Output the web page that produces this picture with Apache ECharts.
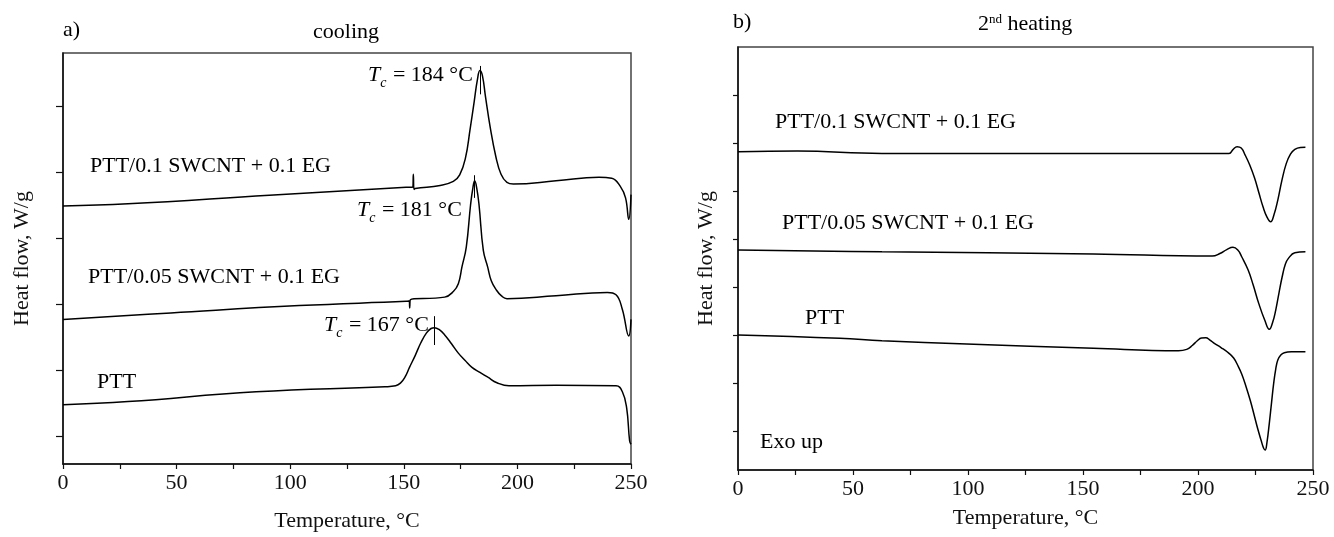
<!DOCTYPE html>
<html><head><meta charset="utf-8">
<script src="https://cdn.jsdelivr.net/npm/echarts@6/dist/echarts.min.js"></script>
<style>html,body{margin:0;padding:0;background:#fff}#c{width:1334px;height:537px}</style>
</head><body><div id="c"></div>
<script>
// ---- cooling (panel a) ----
const coolT_SW01 = [0, 28.6, 90.8, 151, 153.9, 154.2, 154.5, 155, 166, 171.8, 174.6, 177.1, 179.2, 181, 182.4, 183.5, 184.6, 186, 188, 190.5, 192.8, 195.4, 198.2, 217, 235.9, 241.5, 245.3, 247.6, 249, 250];
const coolHF_SW01 = [3.488, 3.522, 3.652, 3.772, 3.776, 3.970, 3.739, 3.754, 3.801, 3.861, 3.960, 4.209, 4.657, 5.075, 5.403, 5.542, 5.463, 5.134, 4.687, 4.239, 3.970, 3.846, 3.821, 3.870, 3.925, 3.910, 3.787, 3.612, 3.288, 3.661];
const coolT_SW005 = [0, 47.5, 104, 151, 152.4, 152.6, 152.9, 168, 171.8, 174, 175.6, 177.5, 179.4, 180.4, 181.2, 182.1, 183.1, 185, 186.9, 188.5, 190.7, 193, 195.4, 217, 239.6, 243.4, 246.2, 249, 250];
const coolHF_SW005 = [1.772, 1.870, 1.981, 2.045, 2.052, 1.945, 2.070, 2.109, 2.194, 2.313, 2.567, 2.866, 3.512, 3.761, 3.870, 3.761, 3.512, 2.816, 2.567, 2.358, 2.219, 2.127, 2.085, 2.130, 2.179, 2.145, 1.921, 1.522, 1.772];
const coolT_PTT = [0, 28.6, 85, 141.7, 146.4, 148.5, 150.5, 152.5, 155, 157.5, 160, 162, 163.5, 165.5, 168, 171, 174, 177, 180, 183.5, 187, 191, 196.3, 217, 243.4, 246.2, 248.1, 249.4, 250];
const coolHF_PTT = [0.478, 0.527, 0.676, 0.751, 0.766, 0.806, 0.896, 1.045, 1.224, 1.418, 1.567, 1.634, 1.646, 1.619, 1.537, 1.403, 1.261, 1.149, 1.045, 0.970, 0.896, 0.813, 0.766, 0.776, 0.766, 0.676, 0.428, -0.070, -0.119];
// Tc marker lines (temperature, upper value, lower value)
const tcMarkT = [183.6, 181.2, 163.5];
const tcMarkTop = [5.61, 3.955, 1.821];
const tcMarkBottom = [5.18, 3.612, 1.384];
const tcValues = [184, 181, 167];

// ---- 2nd heating (panel b) ----
const heatT_SW01 = [0, 25.8, 62.6, 154.6, 213.5, 215.2, 217, 218.8, 220.5, 222.5, 224.6, 226.5, 228.3, 230, 231.6, 233, 234.7, 236.5, 238.4, 240.2, 242.1, 244.5, 246.7];
const heatHF_SW01 = [5.821, 5.836, 5.788, 5.788, 5.788, 5.867, 5.925, 5.898, 5.753, 5.545, 5.274, 4.963, 4.672, 4.464, 4.366, 4.505, 4.817, 5.233, 5.580, 5.773, 5.871, 5.909, 5.913];
const heatT_SW005 = [0, 62.6, 154.6, 206.2, 209.5, 212.5, 215.2, 217.3, 219, 221.8, 224, 226.4, 229, 231, 232.5, 233.8, 235.2, 236.6, 238, 239.3, 242.1, 246.7];
const heatHF_SW005 = [3.778, 3.742, 3.694, 3.653, 3.705, 3.788, 3.834, 3.778, 3.638, 3.362, 3.050, 2.669, 2.322, 2.129, 2.281, 2.530, 2.884, 3.222, 3.486, 3.605, 3.721, 3.742];
const heatT_PTT = [0, 44.2, 62.6, 99.4, 154.6, 191.5, 195.1, 197.5, 199.7, 201.5, 203.4, 205.2, 207.1, 210, 213.5, 215.5, 217.2, 219, 220.9, 222.8, 224.6, 226, 227.4, 228.5, 229.2, 230, 231, 232, 232.9, 233.8, 234.7, 236, 237.5, 241, 246.7];
const heatHF_PTT = [2.010, 1.942, 1.892, 1.823, 1.734, 1.684, 1.713, 1.792, 1.892, 1.948, 1.954, 1.906, 1.838, 1.751, 1.630, 1.532, 1.387, 1.200, 0.936, 0.638, 0.312, 0.056, -0.173, -0.339, -0.380, -0.214, 0.175, 0.617, 1.006, 1.304, 1.491, 1.595, 1.642, 1.661, 1.663];

// ---- ticks / labels ----
const xTickLabels = [0, 50, 100, 150, 200, 250];
const yTicksLeft = [0, 1, 2, 3, 4, 5];
const yTicksRight = [0, 1, 2, 3, 4, 5, 6, 7];
const seriesNames = ['PTT/0.1 SWCNT + 0.1 EG', 'PTT/0.05 SWCNT + 0.1 EG', 'PTT'];

const FONT = "'Liberation Serif', 'Times New Roman', serif";
const pair = (xs, ys) => xs.map((x, i) => [x, ys[i]]);

const chart = echarts.init(document.getElementById('c'), null, {renderer: 'canvas'});

function xAxisCfg(gi, nameGap) {
  return {
    type: 'value', gridIndex: gi, min: 0, max: 250, interval: 25,
    axisLine: {onZero: false, lineStyle: {color: '#111', width: 1.5}},
    axisTick: {inside: false, length: 5, lineStyle: {color: '#111', width: 1.2}},
    axisLabel: {margin: 8, fontFamily: FONT, fontSize: 22, color: '#111',
      formatter: v => (xTickLabels.indexOf(v) >= 0 ? String(v) : '')},
    splitLine: {show: false},
    name: 'Temperature, °C', nameLocation: 'middle', nameGap: nameGap,
    nameTextStyle: {fontFamily: FONT, fontSize: 22, color: '#111'}
  };
}
function yAxisCfg(gi, min, max, ticks, tickLen, nameGap) {
  return {
    type: 'value', gridIndex: gi, min: min, max: max,
    axisLine: {onZero: false, lineStyle: {color: '#111', width: 1.5}},
    axisTick: {inside: false, length: tickLen, customValues: ticks, lineStyle: {color: '#111', width: 1.2}},
    axisLabel: {show: false},
    splitLine: {show: false},
    name: 'Heat flow, W/g', nameLocation: 'middle', nameGap: nameGap, nameRotate: 90,
    nameTextStyle: {fontFamily: FONT, fontSize: 22, color: '#111'}
  };
}
function curve(name, xs, ys, xi, extra) {
  return Object.assign({
    type: 'line', name: name, xAxisIndex: xi, yAxisIndex: xi,
    data: pair(xs, ys), showSymbol: false, symbol: 'none',
    smooth: 0.45,
    lineStyle: {color: '#000', width: 1.5}, silent: true, animation: false
  }, extra || {});
}
function markLineFor(i) {
  return {
    symbol: 'none', silent: true, animation: false,
    label: {show: false},
    lineStyle: {color: '#000', width: 1, type: 'solid'},
    data: [[{coord: [tcMarkT[i], tcMarkTop[i]]}, {coord: [tcMarkT[i], tcMarkBottom[i]]}]]
  };
}

const tcRich = {
  t: {fontFamily: FONT, fontSize: 22, fontStyle: 'italic', fill: '#000', lineHeight: 30},
  c: {fontFamily: FONT, fontSize: 14, fontStyle: 'italic', fill: '#000', verticalAlign: 'bottom', lineHeight: 13, padding: [0, 1, 0, 0]},
  n: {fontFamily: FONT, fontSize: 22, fill: '#000', lineHeight: 30}
};
function tcLabel(i, x, y) {
  return {type: 'text', x: x, y: y, silent: true,
    style: {text: '{t|T}{c|c}{n| = ' + tcValues[i] + ' °C}', rich: tcRich,
      font: '22px ' + FONT, fill: '#000', align: 'left', verticalAlign: 'middle'}};
}
function txt(s, x, y, align) {
  return {type: 'text', x: x, y: y, silent: true,
    style: {text: s, font: '22px ' + FONT, fill: '#000', align: align || 'left', verticalAlign: 'middle'}};
}

const option = {
  animation: false,
  backgroundColor: '#fff',
  grid: [
    {left: 63, right: 703, top: 53, bottom: 67, show: true, borderColor: '#444', borderWidth: 1.5, containLabel: false},
    {left: 738, right: 21, top: 47, bottom: 67, show: true, borderColor: '#444', borderWidth: 1.5, containLabel: false}
  ],
  xAxis: [xAxisCfg(0, 46), xAxisCfg(1, 37)],
  yAxis: [yAxisCfg(0, -0.418, 5.806, yTicksLeft, 7, 30), yAxisCfg(1, -0.796, 8.0, yTicksRight, 5, 21)],
  series: [
    curve(seriesNames[0], coolT_SW01, coolHF_SW01, 0, {markLine: markLineFor(0)}),
    curve(seriesNames[1], coolT_SW005, coolHF_SW005, 0, {markLine: markLineFor(1)}),
    curve(seriesNames[2], coolT_PTT, coolHF_PTT, 0, {markLine: markLineFor(2)}),
    curve(seriesNames[0], heatT_SW01, heatHF_SW01, 1),
    curve(seriesNames[1], heatT_SW005, heatHF_SW005, 1),
    curve(seriesNames[2], heatT_PTT, heatHF_PTT, 1)
  ],
  graphic: [
    txt('a)', 63, 30),
    txt('cooling', 346, 32, 'center'),
    txt('b)', 733, 22),
    {type: 'text', x: 978, y: 24, silent: true,
      style: {text: '{a|2}{s|nd}{a| heating}', font: '22px ' + FONT, fill: '#000', align: 'left', verticalAlign: 'middle',
        rich: {a: {fontFamily: FONT, fontSize: 22, fill: '#000'},
               s: {fontFamily: FONT, fontSize: 13, fill: '#000', verticalAlign: 'top'}}}},
    txt(seriesNames[0], 90, 166),
    txt(seriesNames[1], 88, 277),
    txt(seriesNames[2], 97, 382),
    tcLabel(0, 368, 75),
    tcLabel(1, 357, 210),
    tcLabel(2, 324, 325),
    txt(seriesNames[0], 775, 122),
    txt(seriesNames[1], 782, 223),
    txt(seriesNames[2], 805, 318),
    txt('Exo up', 760, 442)
  ]
};
chart.setOption(option);
</script></body></html>
